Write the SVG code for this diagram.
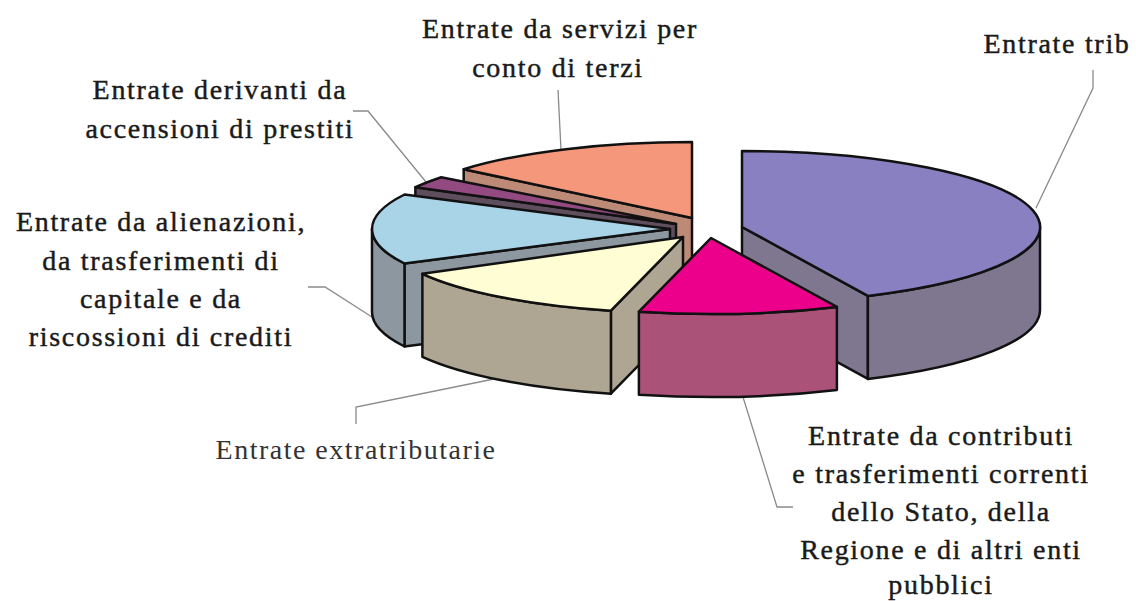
<svg xmlns="http://www.w3.org/2000/svg" width="1136" height="601" viewBox="0 0 1136 601">
<style>
.f{stroke:#111;stroke-width:2.5;stroke-linejoin:round}
.lbl{font-size:28px;fill:#1a1a1a;stroke:#1a1a1a;stroke-width:0.45px;letter-spacing:1.7px;text-anchor:middle}
.lt{fill:#333;stroke:none;letter-spacing:1.5px}
.c{fill:none;stroke:#8a8a8a;stroke-width:1.3}
</style>
<rect width="1136" height="601" fill="#fff"/>
<g id="connectors">
<path class="c" d="M558,90 L561,150"/>
<path class="c" d="M1093,70 L1093,88 L1036,208"/>
<path class="c" d="M353,111 L368,111 L426,182"/>
<path class="c" d="M308,287 L325,287 L372,317"/>
<path class="c" d="M356,424 L356,407 L494,379"/>
<path class="c" d="M743,397 L777,507 L793,507"/>
</g>
<g id="slice-servizi">
<path class="f" fill="#BE8A78" d="M692,218 L463.7,169.2 L463.7,252.2 L692,301 Z"/>
<path class="f" fill="#F4977A" d="M692,218 L463.7,169.2 A298,76 0 0 1 692,142 Z"/>
</g>
<g id="slice-prestiti">
<path class="f" fill="#5E4E5E" d="M676,224 L415.4,187.2 L415.4,270.2 L676,307 Z"/>
<path class="f" fill="#924A80" d="M676,224 L415.4,187.2 A298,76 0 0 1 441.2,177.2 Z"/>
</g>
<g id="slice-alienazioni">
<path class="f" fill="#8D979F" d="M670,229 L404.5,263.5 L404.5,346.5 L670,312 Z"/>
<path class="f" fill="#8D979F" d="M404.5,263.5 A298,76 0 0 1 372,229 L372,312 A298,76 0 0 0 404.5,346.5 Z"/>
<path class="f" fill="#A9D3E6" d="M670,229 L404.5,263.5 A298,76 0 0 1 404.5,194.5 Z"/>
</g>
<g id="slice-extratributarie">
<path class="f" fill="#AEA592" d="M683,237 L610.9,310.7 L610.9,393.7 L683,320 Z"/>
<path class="f" fill="#AEA592" d="M610.9,310.7 A298,76 0 0 1 422.4,273.8 L422.4,356.8 A298,76 0 0 0 610.9,393.7 Z"/>
<path class="f" fill="#FFFDD3" d="M683,237 L610.9,310.7 A298,76 0 0 1 422.4,273.8 Z"/>
</g>
<g id="slice-tributarie">
<path class="f" fill="#7F7690" d="M742,227 L867.9,295.9 L867.9,378.9 L742,310 Z"/>
<path class="f" fill="#7F7690" d="M1040,227 A298,76 0 0 1 867.9,295.9 L867.9,378.9 A298,76 0 0 0 1040,310 Z"/>
<path class="f" fill="#8880C0" d="M742,227 L742,151 A298,76 0 0 1 867.9,295.9 Z"/>
</g>
<g id="slice-contributi">
<path class="f" fill="#AB5279" d="M836.9,306.9 A298,76 0 0 1 638.9,311.7 L638.9,394.7 A298,76 0 0 0 836.9,389.9 Z"/>
<path class="f" fill="#EC008B" d="M711,238 L836.9,306.9 A298,76 0 0 1 638.9,311.7 Z"/>
</g>
<g id="labels" font-family="Liberation Serif, DejaVu Serif, serif">
<g id="label-servizi">
<text class="lbl" x="560" y="38">Entrate da servizi per</text>
<text class="lbl" x="558" y="77">conto di terzi</text>
</g>
<g id="label-tributarie">
<text class="lbl" x="1057" y="53">Entrate trib</text>
</g>
<g id="label-prestiti">
<text class="lbl" x="220" y="99">Entrate derivanti da</text>
<text class="lbl" x="220" y="138">accensioni di prestiti</text>
</g>
<g id="label-alienazioni">
<text class="lbl" x="161" y="231">Entrate da alienazioni,</text>
<text class="lbl" x="161" y="270">da trasferimenti di</text>
<text class="lbl" x="161" y="308">capitale e da</text>
<text class="lbl" x="161" y="346">riscossioni di crediti</text>
</g>
<g id="label-extratributarie">
<text class="lbl lt" x="356" y="459">Entrate extratributarie</text>
</g>
<g id="label-contributi">
<text class="lbl" x="941" y="445">Entrate da contributi</text>
<text class="lbl" x="941" y="483">e trasferimenti correnti</text>
<text class="lbl" x="941" y="521">dello Stato, della</text>
<text class="lbl" x="941" y="559">Regione e di altri enti</text>
<text class="lbl" x="941" y="594">pubblici</text>
</g>
</g>
</svg>
